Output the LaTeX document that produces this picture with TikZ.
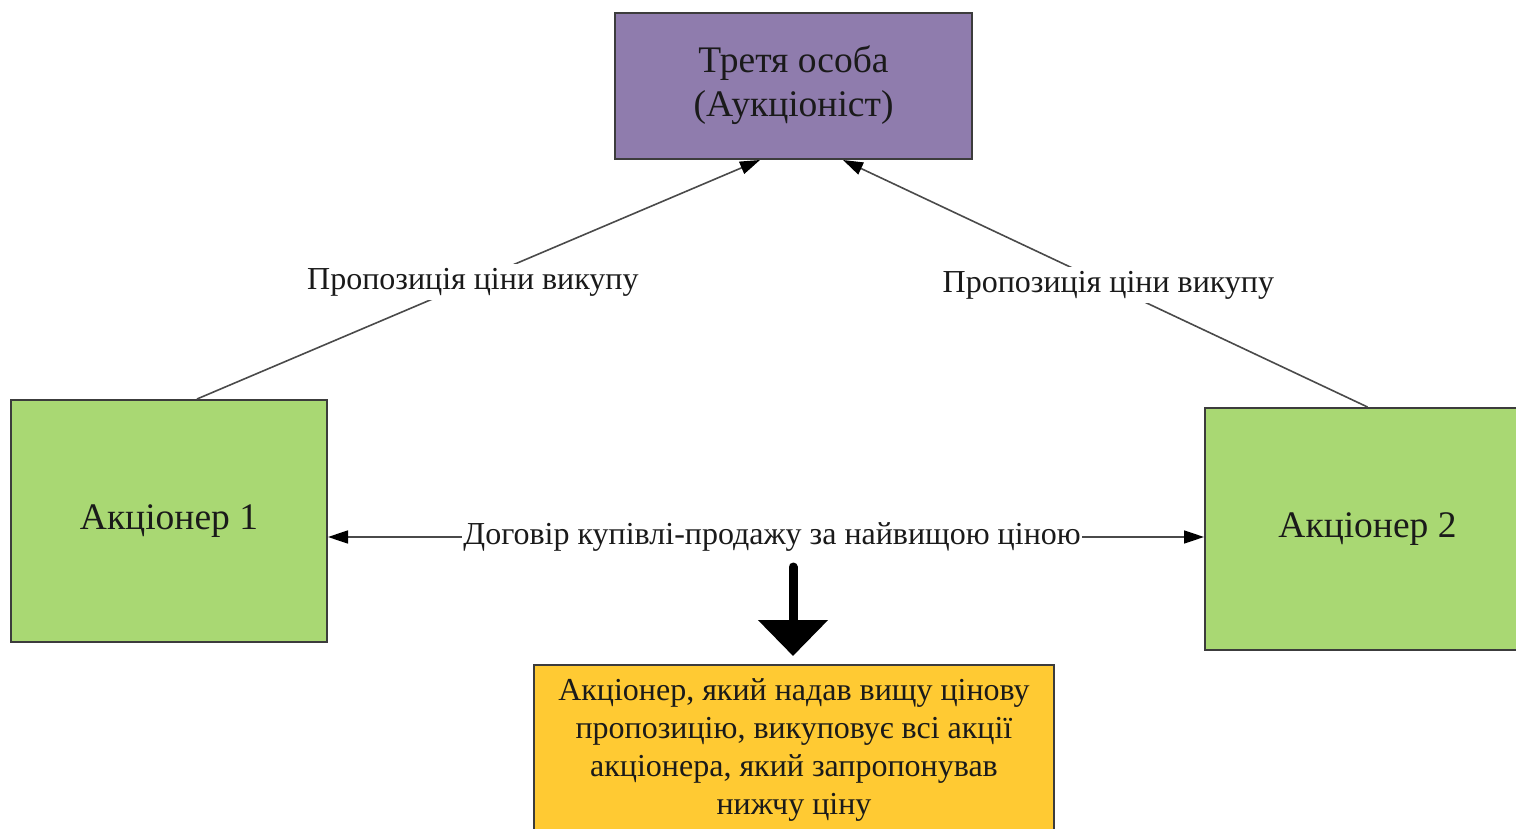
\documentclass[tikz,border=0pt]{standalone}
\usepackage{fontspec}
\setmainfont{Liberation Serif}
\usetikzlibrary{arrows.meta}
\definecolor{auctionpurple}{HTML}{8F7CAD}
\definecolor{holdergreen}{HTML}{A9D873}
\definecolor{resultyellow}{HTML}{FFCA33}
\definecolor{edgegray}{HTML}{3C3C3C}
\definecolor{linkgray}{HTML}{4A4A4A}
\definecolor{textdark}{HTML}{1A1A1A}
\tikzset{
  box/.style={draw=edgegray, line width=2pt, text=textdark, align=center, inner sep=0pt},
  bigfont/.style={font=\fontsize{37.5}{45}\selectfont},
  smallfont/.style={font=\fontsize{32}{38}\selectfont},
  tip/.style={Triangle[width=13pt,length=20pt,color=black]},
  link/.style={draw=linkgray, line width=1.6pt, -{Triangle[width=13pt,length=20pt,color=black]}},
  twoway/.style={draw=linkgray, line width=1.6pt, {Triangle[width=13pt,length=20pt,color=black]}-{Triangle[width=13pt,length=20pt,color=black]}},
  linklabel/.style={fill=white, text=textdark, smallfont, inner xsep=1pt, inner ysep=4pt},
  bigarrow/.style={line width=9pt, line cap=round, -{Triangle[width=68pt,length=36pt]}}
}
\begin{document}
\begin{tikzpicture}[x=1pt,y=-1pt]
  \clip (0,0) rectangle (1516,829);
  \fill[white] (0,0) rectangle (1516,829);

  % participants
  \node[box, fill=auctionpurple, bigfont, minimum width=357pt, minimum height=146pt]
    (top) at (793.5,86) {\raisebox{-3pt}{\begin{tabular}{@{}c@{}}Третя особа\\[-1pt](Аукціоніст)\end{tabular}}};
  \node[box, fill=holdergreen, bigfont, minimum width=316pt, minimum height=242pt]
    (left) at (169,521) {\raisebox{-3pt}{Акціонер 1}};
  \node[box, fill=holdergreen, bigfont, minimum width=325pt, minimum height=242pt]
    (right) at (1367.5,529) {\raisebox{-3pt}{Акціонер 2}};
  \node[box, fill=resultyellow, smallfont, minimum width=520pt, minimum height=170pt]
    (result) at (794,750) {Акціонер, який надав вищу цінову\\пропозицію, викуповує всі акції\\акціонера, який запропонував\\нижчу ціну};

  % offers to the auctioneer
  \draw[link] ([xshift=28pt]left.north) -- ([xshift=-33.5pt]top.south)
    node[linklabel, pos=0.49] (offerA) {Пропозиція ціни викупу};
  \draw[link] (right.north) -- ([xshift=49.5pt]top.south)
    node[linklabel, pos=0.494] (offerB) {Пропозиція ціни викупу};

  % contract between the shareholders
  \draw[twoway] ([yshift=-16pt]left.east) -- ([yshift=-8pt]right.west)
    node[linklabel, pos=0.507, inner ysep=2pt] (deal) {Договір купівлі-продажу за найвищою ціною};

  % outcome
  \coordinate (arrowstart) at (793,567);
  \draw[bigarrow] (arrowstart) -- ([xshift=-1pt,yshift=8pt]result.north);
\end{tikzpicture}
\end{document}
